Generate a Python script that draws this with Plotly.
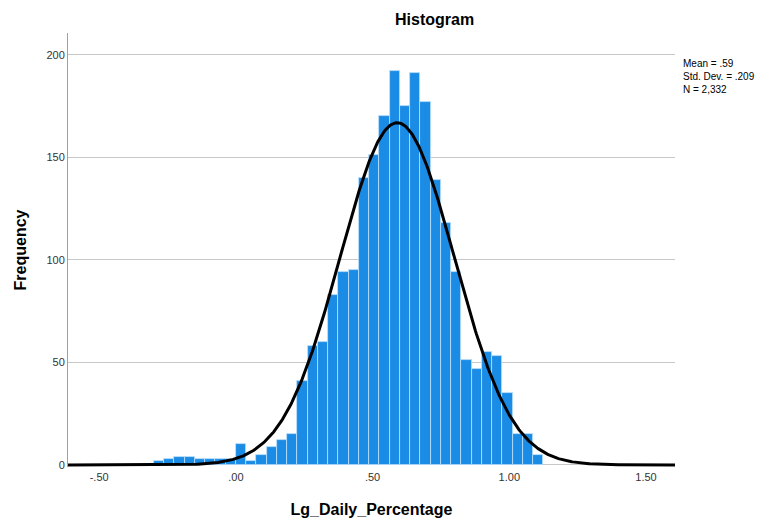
import numpy as np
import plotly.graph_objects as go

# Histogram bins (left edges) and frequencies
bin_width = 0.0375
bin_left_edges = [-0.3 + i * 0.0375 for i in range(38)]
frequencies = [2, 3, 4, 4, 3, 3, 3, 3,
               10, 2, 5, 9, 12, 15,
               41, 58, 60, 83, 94, 95,
               140, 151, 170, 192, 175, 191, 177, 139,
               118, 94, 51, 47, 55, 53, 35, 15, 15, 5]

# Summary statistics shown on the chart
mean_val = 0.59
std_val = 0.209
n_val = 2332

x_tick_vals = [-0.5, 0.0, 0.5, 1.0, 1.5]
x_tick_text = ["-.50", ".00", ".50", "1.00", "1.50"]
y_tick_vals = [0, 50, 100, 150, 200]

centers = [e + bin_width / 2 for e in bin_left_edges]

x_range = [-0.614, 1.606]
xs = np.linspace(x_range[0], x_range[1], 600)
curve = n_val * bin_width * np.exp(-0.5 * ((xs - mean_val) / std_val) ** 2) / (std_val * np.sqrt(2 * np.pi))

font_family = "Arial, Liberation Sans, sans-serif"

# page body has an 8px margin, so the figure is sized to fill the rest
W, H = 759, 511
L, R, T, B = 60, 92, 25, 52

fig = go.Figure()
fig.add_trace(go.Bar(
    x=centers, y=frequencies, width=bin_width,
    marker=dict(color="#1a8ce6", line=dict(color="#bfe0fb", width=0.8)),
    hoverinfo="x+y", showlegend=False,
))
fig.add_trace(go.Scatter(
    x=xs, y=curve, mode="lines",
    line=dict(color="black", width=3), showlegend=False, hoverinfo="skip",
))

fig.update_layout(
    width=W, height=H,
    margin=dict(l=L, r=R, t=T, b=B, autoexpand=False),
    paper_bgcolor="white", plot_bgcolor="white",
    bargap=0,
    font=dict(family=font_family, color="#333333", size=11),
    xaxis=dict(
        range=x_range, tickvals=x_tick_vals, ticktext=x_tick_text,
        showgrid=False, zeroline=False, showline=False,
        ticks="", ticklabelstandoff=2, tickfont=dict(size=11, color="#333333"),
        title=dict(text="<b>Lg_Daily_Percentage</b>", standoff=21,
                   font=dict(size=16, color="black", family=font_family)),
    ),
    yaxis=dict(
        range=[-1, 210.7], tickvals=y_tick_vals,
        showgrid=True, gridcolor="#c8c8c8", gridwidth=1,
        zeroline=False, showline=True, linecolor="#a0a0a0", linewidth=1,
        ticks="", ticklen=0, tickfont=dict(size=11, color="#333333"),
        title=dict(text="<b>Frequency</b>", standoff=15,
                   font=dict(size=16, color="black", family=font_family)),
    ),
    annotations=[
        dict(text="<b>Histogram</b>", xref="paper", yref="paper",
             x=(426 - L) / (W - L - R), y=1, yshift=14, xanchor="center", yanchor="middle",
             showarrow=False, font=dict(size=16, color="black", family=font_family)),
        dict(text="Mean = .59<br>Std. Dev. = .209<br>N = 2,332", xref="paper", yref="paper",
             x=1, xshift=6, y=(H - B - 48) / (H - B - T), xanchor="left", yanchor="top", align="left",
             showarrow=False, font=dict(size=10, color="black", family=font_family)),
    ],
)

fig.write_html("out.html")
